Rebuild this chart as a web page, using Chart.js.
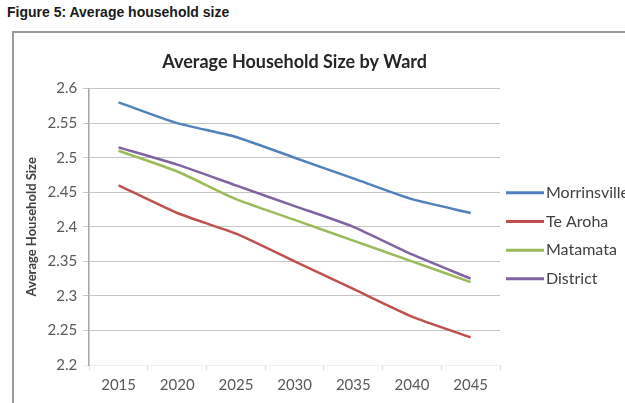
<!DOCTYPE html>
<html>
<head>
<meta charset="utf-8">
<script src="https://cdn.jsdelivr.net/npm/chart.js@4.4.1/dist/chart.umd.min.js"></script>
<style>
    body { margin: 0; background: #fff; overflow: hidden; }
    #caption {
        position: absolute; left: 7px; top: 3px;
        font: bold 14px "Liberation Sans", Arial, sans-serif;
        color: #1a1a1a; line-height: 18px;
    }
    #frame {
        position: absolute; left: 12px; top: 31px; width: 700px; height: 500px;
        border-left: 2px solid #9a9a9a; border-top: 2px solid #9a9a9a;
    }
    #wrap { position: absolute; left: 14px; top: 33px; width: 611px; height: 370px; }
</style>
</head>
<body>
<div id="caption">Figure 5: Average household size</div>
<div id="frame"></div>
<div id="wrap"><canvas id="chartHousehold"></canvas></div>
<script>
// Data
const years = ['2015', '2020', '2025', '2030', '2035', '2040', '2045'];
const morrinsville = [2.58, 2.55, 2.53, 2.50, 2.47, 2.44, 2.42];
const teAroha = [2.46, 2.42, 2.39, 2.35, 2.31, 2.27, 2.24];
const matamata = [2.51, 2.48, 2.44, 2.41, 2.38, 2.35, 2.32];
const district = [2.515, 2.49, 2.46, 2.43, 2.40, 2.36, 2.325];
const yMin = 2.2, yMax = 2.6, yStep = 0.05;

const textColor = '#404040';
const fontName = 'Lato, "Open Sans", sans-serif';

// Legend drawn beside the plot, Excel style (line swatch + label)
const sideLegend = {
    id: 'sideLegend',
    afterDraw(chart) {
        const ctx = chart.ctx;
        const area = chart.chartArea;
        const mid = (area.top + area.bottom) / 2 + 9;
        const n = chart.data.datasets.length;
        ctx.save();
        ctx.font = '16px ' + fontName;
        ctx.textBaseline = 'middle';
        ctx.fillStyle = textColor;
        chart.data.datasets.forEach(function(ds, i) {
            const y = mid + (i - (n - 1) / 2) * 28.7;
            ctx.strokeStyle = ds.borderColor;
            ctx.lineWidth = 3;
            ctx.beginPath();
            ctx.moveTo(area.right + 6, y);
            ctx.lineTo(area.right + 44, y);
            ctx.stroke();
            ctx.fillText(ds.label, area.right + 46, y);
        });
        ctx.restore();
    }
};

function line(label, data, color) {
    return {
        label: label,
        data: data,
        borderColor: color,
        backgroundColor: color,
        borderWidth: 2.5,
        pointRadius: 0,
        tension: 0.2,
        fill: false
    };
}

new Chart(document.getElementById('chartHousehold').getContext('2d'), {
    type: 'line',
    data: {
        labels: years,
        datasets: [
            line('Morrinsville', morrinsville, '#4F81BD'),
            line('Te Aroha', teAroha, '#C0504D'),
            line('Matamata', matamata, '#9BBB59'),
            line('District', district, '#8064A2')
        ]
    },
    options: {
        responsive: true,
        maintainAspectRatio: false,
        animation: false,
        layout: { padding: { left: 0, right: 125, top: 0, bottom: 3 } },
        plugins: {
            legend: { display: false },
            tooltip: { enabled: false },
            title: {
                display: true,
                text: 'Average Household Size by Ward',
                fullSize: false,
                color: '#262626',
                font: { family: fontName, size: 18, weight: 'bold' },
                padding: { top: 18, bottom: 16 }
            }
        },
        scales: {
            x: {
                offset: true,
                grid: {
                    offset: true,
                    drawOnChartArea: false,
                    drawTicks: true,
                    tickLength: 5,
                    color: '#d8d8d8'
                },
                border: { color: '#f0f0f0' },
                ticks: {
                    color: '#595959',
                    padding: 6,
                    maxRotation: 0,
                    font: { family: fontName, size: 15 }
                }
            },
            y: {
                min: yMin,
                max: yMax,
                grid: {
                    color: function(c) { return c.index === 0 ? '#f0f0f0' : '#c4c4c4'; },
                    tickLength: 6
                },
                border: { color: '#a6a6a6', width: 1.5 },
                ticks: {
                    stepSize: yStep,
                    color: '#595959',
                    padding: 6,
                    font: { family: fontName, size: 15 },
                    callback: function(value) { return String(Number(value.toFixed(2))); }
                },
                title: {
                    display: true,
                    text: 'Average Household Size',
                    color: textColor,
                    font: { family: fontName, size: 13, weight: 'bold' },
                    padding: { top: 10, bottom: 2 }
                }
            }
        }
    },
    plugins: [sideLegend]
});
</script>
</body>
</html>
